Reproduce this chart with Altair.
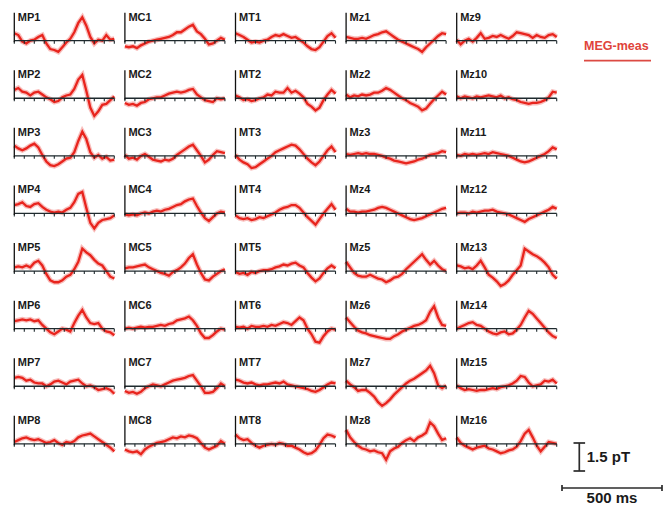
import altair as alt
import pandas as pd

# ---------------- data ----------------
T_MS = list(range(0, 501, 20))          # sample times (ms) within each panel
TICK_MS = list(range(0, 501, 50))       # tick marks on each baseline

COL_MP = ["MP1", "MP2", "MP3", "MP4", "MP5", "MP6", "MP7", "MP8"]
COL_MC = ["MC1", "MC2", "MC3", "MC4", "MC5", "MC6", "MC7", "MC8"]
COL_MT = ["MT1", "MT2", "MT3", "MT4", "MT5", "MT6", "MT7", "MT8"]
COL_MZA = ["Mz1", "Mz2", "Mz3", "Mz4", "Mz5", "Mz6", "Mz7", "Mz8"]
COL_MZB = ["Mz9", "Mz10", "Mz11", "Mz12", "Mz13", "Mz14", "Mz15", "Mz16"]

# field values in pT
MP1 = [0.4, 0.3, -0.05, -0.15, 0.0, 0.05, 0.2, 0.3, -0.15, -0.45, -0.5, -0.6, -0.35, -0.1, 0.1, 0.45, 0.95, 1.25, 0.8, 0.2, -0.15, 0.05, 0.0, 0.3, 0.05, 0.1]
MP2 = [0.45, 0.55, 0.35, 0.3, 0.15, 0.3, 0.35, 0.2, 0.05, -0.05, -0.2, -0.15, 0.05, 0.15, 0.2, 0.5, 1.0, 1.25, 0.4, -0.5, -0.95, -0.7, -0.35, -0.3, -0.1, 0.1]
MP3 = [0.55, 0.4, 0.3, 0.4, 0.55, 0.65, 0.45, 0.05, -0.3, -0.5, -0.55, -0.45, -0.3, -0.15, -0.1, 0.2, 0.8, 1.3, 0.9, 0.2, -0.1, 0.05, -0.15, -0.05, -0.25, -0.2]
MP4 = [0.45, 0.5, 0.6, 0.4, 0.35, 0.5, 0.55, 0.35, 0.2, 0.1, 0.05, 0.1, 0.05, 0.2, 0.3, 0.6, 1.05, 1.15, 0.3, -0.5, -0.8, -0.5, -0.35, -0.3, -0.25, -0.1]
MP5 = [0.2, 0.25, 0.2, 0.3, 0.2, 0.45, 0.55, 0.3, -0.15, -0.5, -0.6, -0.6, -0.5, -0.3, -0.2, 0.1, 0.5, 1.2, 1.0, 0.85, 0.6, 0.4, 0.3, 0.0, -0.3, -0.4]
MP6 = [0.4, 0.45, 0.5, 0.45, 0.5, 0.4, 0.45, 0.2, 0.0, -0.2, -0.3, -0.15, 0.0, -0.05, -0.15, 0.3, 0.7, 1.0, 0.6, 0.3, 0.25, 0.3, 0.0, -0.15, -0.2, -0.35]
MP7 = [0.45, 0.5, 0.45, 0.3, 0.35, 0.2, 0.15, 0.15, 0.0, 0.1, 0.25, 0.3, 0.2, 0.1, 0.25, 0.3, 0.35, 0.15, 0.0, 0.05, -0.05, -0.2, -0.15, -0.1, -0.2, -0.4]
MP8 = [0.1, 0.2, 0.3, 0.35, 0.25, 0.2, 0.25, 0.15, 0.05, 0.1, 0.2, 0.05, -0.05, 0.1, 0.05, 0.15, 0.35, 0.45, 0.5, 0.55, 0.4, 0.25, 0.1, -0.05, -0.2, -0.4]

MC1 = [-0.3, -0.35, -0.3, -0.4, -0.25, -0.15, -0.05, 0.0, 0.05, 0.1, 0.15, 0.2, 0.3, 0.45, 0.45, 0.6, 0.75, 0.85, 0.5, 0.35, 0.1, -0.2, -0.15, 0.0, 0.15, 0.05]
MC2 = [-0.25, -0.35, -0.3, -0.4, -0.25, -0.2, -0.05, 0.0, 0.05, 0.05, 0.15, 0.25, 0.3, 0.35, 0.3, 0.35, 0.45, 0.5, 0.2, 0.05, -0.1, -0.15, -0.2, 0.0, -0.05, 0.0]
MC3 = [0.05, -0.15, -0.1, -0.2, 0.0, 0.1, -0.05, -0.2, -0.25, -0.3, -0.2, -0.25, -0.15, 0.05, 0.2, 0.35, 0.5, 0.6, 0.3, 0.0, -0.35, -0.2, 0.05, 0.25, 0.2, 0.15]
MC4 = [-0.05, -0.1, -0.05, -0.1, 0.0, 0.05, 0.0, 0.1, 0.15, 0.1, 0.2, 0.25, 0.35, 0.45, 0.5, 0.65, 0.75, 0.8, 0.4, 0.05, -0.25, -0.4, -0.2, 0.0, 0.1, 0.05]
MC5 = [0.15, 0.2, 0.2, 0.25, 0.3, 0.35, 0.2, 0.1, 0.0, -0.1, -0.15, -0.25, -0.05, 0.05, 0.2, 0.4, 0.7, 0.9, 0.35, -0.1, -0.45, -0.5, -0.3, -0.15, 0.0, 0.1]
MC6 = [0.0, 0.05, 0.0, 0.05, 0.1, 0.05, 0.1, 0.1, 0.15, 0.2, 0.15, 0.25, 0.3, 0.45, 0.5, 0.55, 0.65, 0.45, 0.15, -0.25, -0.5, -0.5, -0.35, -0.15, 0.0, -0.05]
MC7 = [-0.25, -0.35, -0.3, -0.4, -0.3, -0.1, 0.0, 0.1, 0.05, 0.0, 0.1, 0.2, 0.3, 0.35, 0.4, 0.45, 0.55, 0.6, 0.3, 0.0, -0.35, -0.35, -0.3, -0.1, 0.15, 0.0]
MC8 = [-0.3, -0.4, -0.45, -0.4, -0.55, -0.3, -0.15, -0.05, 0.05, 0.1, 0.15, 0.25, 0.35, 0.3, 0.4, 0.35, 0.45, 0.4, 0.3, 0.05, -0.2, -0.3, -0.2, -0.1, 0.15, 0.0]

MT1 = [0.4, 0.3, 0.2, 0.05, -0.1, -0.05, -0.1, 0.0, 0.05, 0.2, 0.3, 0.25, 0.35, 0.25, 0.15, 0.2, 0.05, -0.1, -0.3, -0.45, -0.5, -0.35, -0.05, 0.25, 0.4, 0.15]
MT2 = [0.15, 0.05, -0.1, -0.05, -0.15, -0.1, 0.0, 0.05, 0.2, 0.15, 0.35, 0.3, 0.3, 0.55, 0.3, 0.4, 0.25, 0.05, -0.3, -0.45, -0.65, -0.5, -0.1, 0.2, 0.45, 0.25]
MT3 = [0.05, -0.2, -0.35, -0.45, -0.65, -0.6, -0.45, -0.3, -0.15, 0.0, 0.2, 0.3, 0.4, 0.5, 0.6, 0.55, 0.35, 0.1, -0.15, -0.35, -0.5, -0.3, 0.0, 0.3, 0.5, 0.2]
MT4 = [-0.1, -0.25, -0.3, -0.25, -0.35, -0.3, -0.2, -0.25, -0.15, -0.05, 0.05, 0.2, 0.3, 0.35, 0.45, 0.45, 0.3, 0.05, -0.2, -0.4, -0.6, -0.3, 0.0, 0.25, 0.5, 0.2]
MT5 = [-0.05, -0.15, -0.1, -0.2, -0.05, -0.1, 0.0, 0.05, 0.05, 0.1, 0.2, 0.25, 0.35, 0.3, 0.4, 0.45, 0.3, 0.2, -0.1, -0.35, -0.55, -0.4, -0.1, 0.15, 0.3, 0.15]
MT6 = [0.1, 0.05, 0.1, 0.0, 0.15, 0.1, 0.1, 0.15, 0.1, 0.2, 0.15, 0.25, 0.35, 0.3, 0.2, 0.4, 0.6, 0.45, 0.0, -0.3, -0.7, -0.75, -0.4, -0.15, 0.0, -0.05]
MT7 = [0.35, 0.3, 0.2, 0.15, 0.2, 0.1, 0.05, 0.1, 0.1, 0.15, 0.2, 0.15, 0.25, 0.1, 0.05, 0.0, -0.05, -0.1, -0.15, -0.25, -0.3, -0.2, -0.05, 0.1, 0.2, 0.15]
MT8 = [0.5, 0.3, 0.2, 0.25, 0.05, -0.1, -0.2, -0.1, -0.05, 0.0, -0.05, 0.05, 0.0, -0.1, -0.1, -0.2, -0.3, -0.45, -0.55, -0.5, -0.35, -0.05, 0.3, 0.5, 0.45, 0.35]

MZ1 = [0.2, 0.15, 0.1, 0.1, 0.15, 0.1, 0.2, 0.3, 0.35, 0.45, 0.5, 0.35, 0.2, 0.05, -0.05, -0.15, -0.25, -0.35, -0.45, -0.6, -0.35, -0.15, 0.05, 0.25, 0.4, 0.35]
MZ2 = [0.2, 0.05, 0.15, 0.1, 0.2, 0.15, 0.2, 0.3, 0.3, 0.4, 0.55, 0.45, 0.3, 0.15, 0.0, -0.1, -0.25, -0.35, -0.45, -0.65, -0.55, -0.3, -0.05, 0.15, 0.35, 0.2]
MZ3 = [0.1, 0.05, 0.1, 0.15, 0.1, 0.15, 0.1, 0.1, 0.05, 0.0, -0.1, -0.15, -0.25, -0.3, -0.35, -0.4, -0.35, -0.3, -0.2, -0.15, -0.05, 0.05, 0.1, 0.15, 0.25, 0.2]
MZ4 = [0.25, 0.1, 0.1, 0.05, 0.1, 0.1, 0.15, 0.2, 0.3, 0.35, 0.3, 0.2, 0.1, 0.0, -0.1, -0.2, -0.3, -0.35, -0.3, -0.25, -0.15, -0.05, 0.05, 0.15, 0.25, 0.3]
MZ5 = [0.5, 0.2, -0.1, -0.25, -0.3, -0.3, -0.2, -0.3, -0.4, -0.45, -0.6, -0.5, -0.35, -0.3, -0.15, 0.1, 0.3, 0.5, 0.7, 0.9, 0.6, 0.35, 0.55, 0.3, 0.1, 0.0]
MZ6 = [0.6, 0.35, 0.1, -0.1, -0.2, -0.25, -0.35, -0.4, -0.45, -0.5, -0.55, -0.55, -0.4, -0.3, -0.15, -0.05, 0.05, 0.15, 0.2, 0.3, 0.45, 0.9, 1.2, 0.6, 0.2, 0.15]
MZ7 = [0.3, 0.1, -0.05, -0.25, -0.2, -0.2, -0.35, -0.55, -0.85, -1.05, -0.9, -0.7, -0.45, -0.25, -0.05, 0.15, 0.3, 0.4, 0.55, 0.7, 0.85, 1.1, 0.7, 0.05, -0.1, 0.05]
MZ8 = [0.75, 0.35, 0.1, -0.1, -0.25, -0.3, -0.4, -0.35, -0.45, -0.5, -0.85, -0.4, -0.25, -0.15, 0.05, 0.2, 0.3, 0.15, 0.35, 0.45, 0.6, 1.15, 0.95, 0.55, 0.2, 0.3]

MZ9 = [0.05, -0.2, 0.0, 0.1, -0.05, 0.15, 0.4, 0.1, 0.15, 0.25, 0.2, 0.3, 0.2, 0.1, 0.25, 0.45, 0.4, 0.35, 0.3, 0.15, 0.3, 0.2, 0.15, 0.3, 0.35, 0.2]
MZ10 = [0.1, 0.0, 0.1, 0.05, 0.0, 0.1, 0.05, 0.1, 0.15, 0.1, 0.05, 0.15, 0.0, 0.05, -0.05, -0.1, -0.2, -0.25, -0.3, -0.25, -0.25, -0.2, -0.1, 0.05, 0.35, 0.3]
MZ11 = [0.05, 0.0, 0.1, 0.05, 0.1, 0.05, 0.1, 0.15, 0.1, 0.2, 0.15, 0.1, 0.05, 0.0, -0.1, -0.2, -0.3, -0.35, -0.3, -0.2, -0.1, 0.0, 0.1, 0.25, 0.45, 0.35]
MZ12 = [0.0, 0.05, 0.05, 0.0, 0.1, 0.05, 0.1, 0.15, 0.15, 0.2, 0.1, 0.05, 0.0, -0.05, -0.15, -0.25, -0.35, -0.45, -0.3, -0.2, -0.1, 0.0, 0.1, 0.2, 0.35, 0.25]
MZ13 = [0.3, 0.25, 0.15, 0.2, 0.1, 0.3, 0.55, 0.2, -0.2, -0.35, -0.55, -0.8, -0.7, -0.5, -0.2, 0.05, 0.3, 1.2, 1.05, 0.9, 0.8, 0.65, 0.45, 0.2, -0.2, -0.4]
MZ14 = [0.0, 0.1, 0.2, 0.3, 0.35, 0.2, 0.15, 0.0, -0.15, -0.25, -0.3, -0.2, -0.15, -0.3, -0.25, -0.05, 0.2, 0.6, 0.95, 0.8, 0.55, 0.3, 0.05, -0.2, -0.4, -0.5]
MZ15 = [0.05, -0.1, -0.2, -0.15, -0.2, -0.25, -0.2, -0.2, -0.15, -0.1, -0.15, -0.05, 0.0, 0.05, 0.15, 0.3, 0.55, 0.5, 0.2, 0.0, 0.05, 0.1, 0.3, 0.25, 0.35, 0.15]
MZ16 = [0.35, 0.05, -0.1, -0.2, -0.3, -0.2, -0.15, -0.1, -0.25, -0.3, -0.4, -0.5, -0.45, -0.35, -0.3, -0.15, 0.15, 0.55, 0.75, 0.35, -0.1, -0.4, -0.15, 0.1, 0.05, 0.0]

SCALE_PT = 1.5
SCALE_MS = 500
LEGEND_LABEL = "MEG-meas"

TRACES = {
    "MP1": MP1, "MP2": MP2, "MP3": MP3, "MP4": MP4, "MP5": MP5, "MP6": MP6, "MP7": MP7, "MP8": MP8,
    "MC1": MC1, "MC2": MC2, "MC3": MC3, "MC4": MC4, "MC5": MC5, "MC6": MC6, "MC7": MC7, "MC8": MC8,
    "MT1": MT1, "MT2": MT2, "MT3": MT3, "MT4": MT4, "MT5": MT5, "MT6": MT6, "MT7": MT7, "MT8": MT8,
    "Mz1": MZ1, "Mz2": MZ2, "Mz3": MZ3, "Mz4": MZ4, "Mz5": MZ5, "Mz6": MZ6, "Mz7": MZ7, "Mz8": MZ8,
    "Mz9": MZ9, "Mz10": MZ10, "Mz11": MZ11, "Mz12": MZ12, "Mz13": MZ13, "Mz14": MZ14, "Mz15": MZ15, "Mz16": MZ16,
}
COLUMNS = [COL_MP, COL_MC, COL_MT, COL_MZA, COL_MZB]

trace_rows, panel_rows, tick_rows = [], [], []
for c, names in enumerate(COLUMNS):
    for r, name in enumerate(names):
        for t, v in zip(T_MS, TRACES[name]):
            trace_rows.append({"name": name, "col": c, "row": r, "t": t, "v": v})
        panel_rows.append({"name": name, "col": c, "row": r, "t0": T_MS[0], "t1": T_MS[-1]})
        for tk in TICK_MS:
            tick_rows.append({"name": name, "col": c, "row": r, "t": tk})
traces_df = pd.DataFrame(trace_rows)
panels_df = pd.DataFrame(panel_rows)
ticks_df = pd.DataFrame(tick_rows)

# ---------------- layout (one shared ms / pT coordinate system) ----------------
PITCH_MS = 553        # horizontal distance between panel origins, in ms of the time scale
PITCH_PT = 3.0857     # vertical distance between panel baselines, in pT
W, H = 655, 500
X_DOMAIN = [-31.5, -31.5 + W * 5]          # 0.2 px per ms
Y_DOMAIN = [1.75 - H / 18.667, 1.75]       # 18.667 px per pT (1.5 pT = 28 px)

xs = alt.Scale(domain=X_DOMAIN, nice=False, zero=False)
ys = alt.Scale(domain=Y_DOMAIN, nice=False, zero=False)

RED = "#e8241d"
AXIS = "#1f2a2e"
FONT = "Liberation Sans, Arial, Helvetica, sans-serif"

def X(f):
    return alt.X(f, type="quantitative", scale=xs, axis=None)

def Y(f):
    return alt.Y(f, type="quantitative", scale=ys, axis=None)

tr = alt.Chart(traces_df).transform_calculate(
    X=f"datum.t + datum.col * {PITCH_MS}",
    Y=f"datum.v - datum.row * {PITCH_PT}",
)
halo = tr.mark_line(color=RED, strokeWidth=5, opacity=0.3).encode(
    x=X("X"), y=Y("Y"), detail="name:N", order="t:Q")
trace = tr.mark_line(color=RED, strokeWidth=2.3).encode(
    x=X("X"), y=Y("Y"), detail="name:N", order="t:Q")

pn = alt.Chart(panels_df).transform_calculate(
    X0=f"datum.t0 + datum.col * {PITCH_MS}",
    X1=f"datum.t1 + datum.col * {PITCH_MS}",
    B=f"-datum.row * {PITCH_PT}",
    VLOW=f"-0.08 - datum.row * {PITCH_PT}",
    VTOP=f"{SCALE_PT} - datum.row * {PITCH_PT}",
    LAB=f"1.56 - datum.row * {PITCH_PT}",
)
baseline = pn.mark_rule(color=AXIS, strokeWidth=1.3).encode(x=X("X0"), x2="X1:Q", y=Y("B"))
vaxis = pn.mark_rule(color="#111111", strokeWidth=1.3).encode(x=X("X0"), y=Y("VLOW"), y2="VTOP:Q")
label = pn.mark_text(align="left", baseline="top", dx=3.5, fontSize=11, fontWeight="bold",
                     font=FONT, color="#1a1a1a").encode(x=X("X0"), y=Y("LAB"), text="name:N")

tk = alt.Chart(ticks_df).transform_calculate(
    X=f"datum.t + datum.col * {PITCH_MS}",
    B=f"-datum.row * {PITCH_PT}",
    BL=f"-0.16 - datum.row * {PITCH_PT}",
)
ticks = tk.mark_rule(color=AXIS, strokeWidth=1.1).encode(x=X("X"), y=Y("B"), y2="BL:Q")

# ---------------- legend & scale bars ----------------
BAR_X = 2825            # vertical 1.5 pT bar position (ms units)
BAR_Y0 = -23.053        # its lower end (pT units)
CAP_MS = 29
HBAR_X0 = 2738.5        # 500 ms bar start
HBAR_Y = -23.964
CAP_PT = 0.16
LEG_X0, LEG_X1 = 2848.5, 3183.5
LEG_TEXT_Y, LEG_LINE_Y = -0.286, -1.073

segs = pd.DataFrame([
    {"x": BAR_X, "x2": BAR_X, "y": BAR_Y0, "y2": BAR_Y0 + SCALE_PT, "c": "bar"},
    {"x": BAR_X - CAP_MS, "x2": BAR_X + CAP_MS, "y": BAR_Y0, "y2": BAR_Y0, "c": "bar"},
    {"x": BAR_X - CAP_MS, "x2": BAR_X + CAP_MS, "y": BAR_Y0 + SCALE_PT, "y2": BAR_Y0 + SCALE_PT, "c": "bar"},
    {"x": HBAR_X0, "x2": HBAR_X0 + SCALE_MS, "y": HBAR_Y, "y2": HBAR_Y, "c": "bar"},
    {"x": HBAR_X0, "x2": HBAR_X0, "y": HBAR_Y - CAP_PT, "y2": HBAR_Y + CAP_PT, "c": "bar"},
    {"x": HBAR_X0 + SCALE_MS, "x2": HBAR_X0 + SCALE_MS, "y": HBAR_Y - CAP_PT, "y2": HBAR_Y + CAP_PT, "c": "bar"},
    {"x": LEG_X0, "x2": LEG_X1, "y": LEG_LINE_Y, "y2": LEG_LINE_Y, "c": "leg"},
])
side_rules = alt.Chart(segs).mark_rule(strokeWidth=1.7).encode(
    x=X("x"), x2="x2:Q", y=Y("y"), y2="y2:Q",
    color=alt.Color("c:N", scale=alt.Scale(domain=["bar", "leg"], range=["#2b2b2b", "#dc4a43"]), legend=None),
)
pt_text = alt.Chart(pd.DataFrame([{"x": BAR_X + 37, "y": BAR_Y0 + SCALE_PT / 2, "txt": f"{SCALE_PT} pT"}])).mark_text(
    align="left", baseline="middle", fontSize=15, fontWeight="bold", font=FONT, color="#1a1a1a"
).encode(x=X("x"), y=Y("y"), text="txt:N")
ms_text = alt.Chart(pd.DataFrame([{"x": HBAR_X0 + SCALE_MS / 2, "y": HBAR_Y - 0.804, "txt": f"{SCALE_MS} ms"}])).mark_text(
    align="center", baseline="alphabetic", fontSize=15, fontWeight="bold", font=FONT, color="#1a1a1a"
).encode(x=X("x"), y=Y("y"), text="txt:N")
leg_text = alt.Chart(pd.DataFrame([{"x": LEG_X0, "y": LEG_TEXT_Y, "txt": LEGEND_LABEL}])).mark_text(
    align="left", baseline="middle", fontSize=12.5, fontWeight="bold", font=FONT, color="#e0443b"
).encode(x=X("x"), y=Y("y"), text="txt:N")

chart = alt.layer(
    halo, trace, baseline, ticks, vaxis, label, side_rules, pt_text, ms_text, leg_text
).properties(
    width=W, height=H,
    autosize=alt.AutoSizeParams(type="none"),
    padding=0,
).configure_view(strokeWidth=0)

chart.save("out.html", embed_options={"renderer": "svg", "actions": False})
